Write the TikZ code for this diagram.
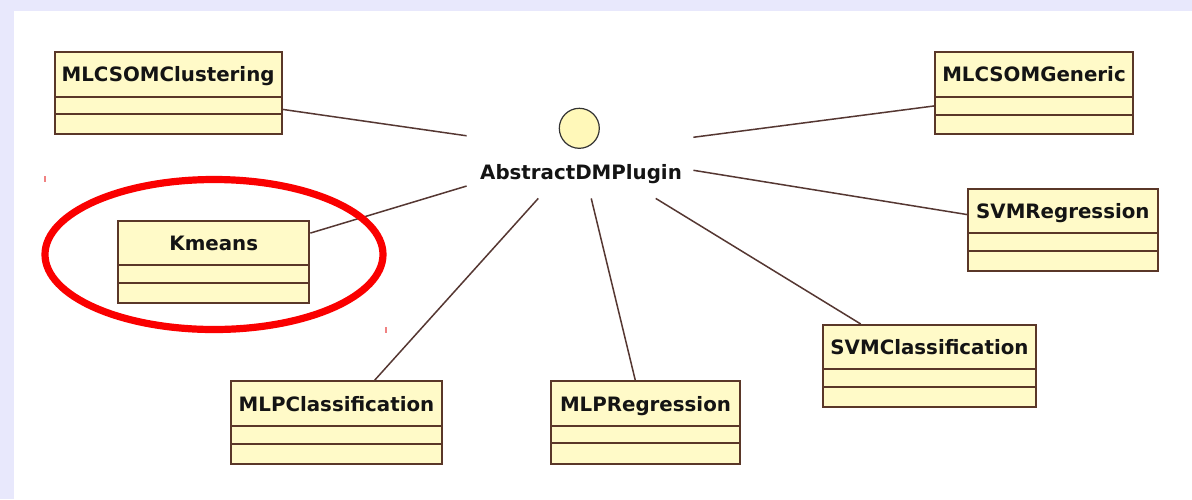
\documentclass[tikz,border=0pt]{standalone}
\usepackage{fontspec}
\setmainfont{DejaVu Sans}
\usetikzlibrary{fit}
\definecolor{lav}{RGB}{232,232,252}
\definecolor{umlfill}{RGB}{255,250,200}
\definecolor{umlborder}{RGB}{90,55,40}
\definecolor{conn}{RGB}{85,55,50}
\definecolor{ifill}{RGB}{255,248,185}
\definecolor{hilite}{RGB}{250,0,0}
\definecolor{tick}{RGB}{240,130,130}
\tikzset{
  umlbox/.style={draw=umlborder, fill=umlfill, line width=1pt, inner sep=0pt},
  umlsep/.style={draw=umlborder, line width=1pt},
  umltext/.style={font=\bfseries\fontsize{9.9}{11}\selectfont, text=black!92, inner sep=0pt},
  connector/.style={draw=conn, line width=0.75pt},
  hubbox/.style={draw=none, inner sep=0pt, minimum width=113pt, minimum height=46pt},
}
\newcommand\umlclass[8]{%
  \node[umlbox, fit={(#2,#3)(#4,#5)}] (#1) {};
  \draw[umlsep] (#2,#6) -- (#4,#6);
  \draw[umlsep] (#2,#7) -- (#4,#7);
  \node[umltext, anchor=base] (#1-t) at ({(#2+#4)/2},{(#3+#6)/2+7.5}) {#8};
}
\begin{document}
\begin{tikzpicture}[x=0.5pt,y=-0.5pt]
\useasboundingbox (0,0) rectangle (1192,499);
\fill[lav] (0,0) rectangle (1192,499);
\fill[white] (14,11) rectangle (1192,499);

% classes
\umlclass{clust}{54.5}{51.7}{281.7}{134.3}{96.7}{114.3}{MLCSOMClustering}
\umlclass{generic}{935}{52}{1133}{134}{96.7}{115}{MLCSOMGeneric}
\umlclass{svmreg}{968}{189}{1157.7}{271}{232.7}{250.7}{SVMRegression}
\umlclass{kmeans}{118.3}{220.7}{309.3}{303.3}{265}{283.3}{Kmeans}
\umlclass{mlpclass}{230.7}{381.3}{442.3}{464}{425.7}{444}{MLPClassification}
\umlclass{mlpreg}{551}{381}{740}{464}{426}{443.3}{MLPRegression}
\umlclass{svmclass}{823.3}{325}{1035.7}{407.3}{369.3}{387.3}{SVMClassification}

% interface
\node[circle, draw=black!80, fill=ifill, line width=0.6pt, minimum size=20pt, inner sep=0pt] (iface) at (579.3,128.3) {};
\node[umltext, anchor=base] (ilabel) at (581,179) {AbstractDMPlugin};
\node[hubbox] (hub) at (580,152) {};

% connectors
\foreach \b in {clust,generic,svmreg,kmeans,mlpclass,mlpreg,svmclass}
  \draw[connector] (hub) -- (\b);

% highlight
\draw[hilite, line width=3.6pt] (214,254.5) ellipse [x radius=169, y radius=75];
\draw[tick, line width=1pt] (45,176) -- (45,182);
\draw[tick, line width=1pt] (386,327) -- (386,333);
\end{tikzpicture}
\end{document}
